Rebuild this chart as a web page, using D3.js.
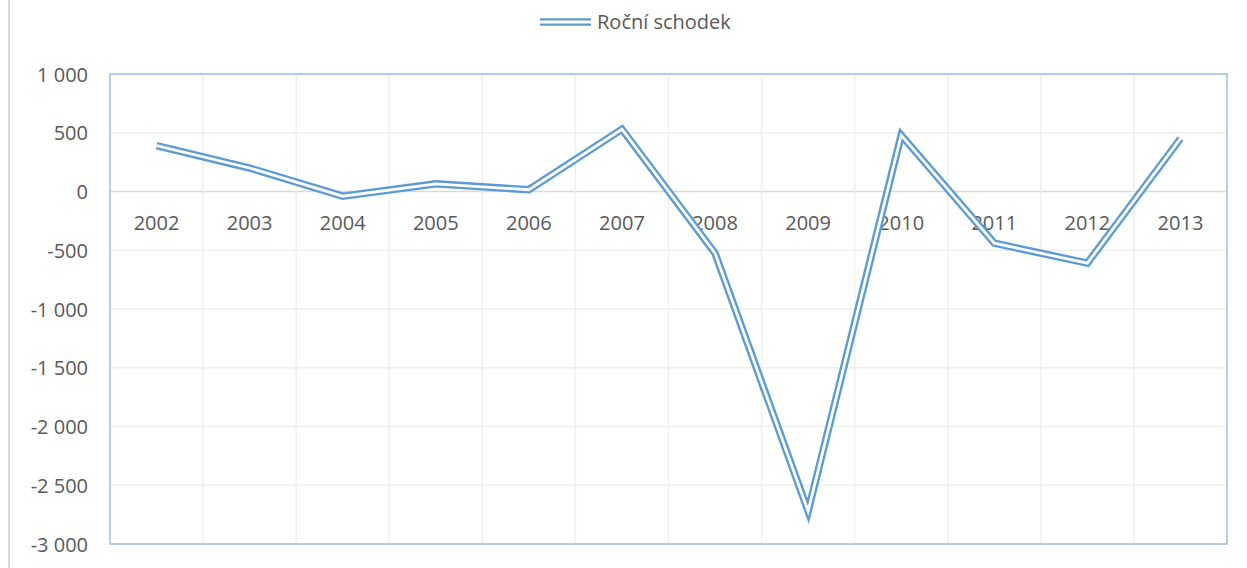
<!DOCTYPE html>
<html>
<head>
<meta charset="utf-8">
<script src="https://cdn.jsdelivr.net/npm/d3@7"></script>
<style>
  body { margin: 0; background: #fff; }
</style>
</head>
<body>
<div id="canvas"></div>
<script>
var years = ['2002', '2003', '2004', '2005', '2006', '2007', '2008', '2009', '2010', '2011', '2012', '2013'];
var deficit = [390, 200, -40, 65, 15, 530, -525, -2720, 480, -440, -610, 450];
var yTicks = [1000, 500, 0, -500, -1000, -1500, -2000, -2500, -3000];
var seriesName = 'Roční schodek';

function drawChart() {
    var width = 1247, height = 568;
    var left = 110, right = 1227, top = 74, bottom = 544;
    var blue = '#5b9bd5';
    var locale = d3.formatLocale({
        decimal: ',', thousands: ' ', grouping: [3], currency: ['', ''], minus: '-'
    });
    var fmt = locale.format(',');

    var svg = d3.select('#canvas').append('svg')
        .attr('width', width)
        .attr('height', height)
        .style('font-family', '"Open Sans", sans-serif');

    // gray frame line on the left
    svg.append('line')
        .attr('x1', 9).attr('x2', 9)
        .attr('y1', 0).attr('y2', height)
        .attr('stroke', '#d9d9d9')
        .attr('stroke-width', 2);

    var x = d3.scaleBand()
        .domain(years)
        .range([left, right]);

    var y = d3.scaleLinear()
        .domain([-3000, 1000])
        .range([bottom, top]);

    // horizontal gridlines
    svg.append('g')
        .selectAll('line')
        .data(yTicks)
        .enter()
        .append('line')
        .attr('x1', left).attr('x2', right)
        .attr('y1', function(d) { return y(d); })
        .attr('y2', function(d) { return y(d); })
        .attr('stroke', function(d) { return d === 0 ? '#d9d9d9' : '#efefef'; })
        .attr('stroke-width', 1.5);

    // vertical gridlines between categories
    svg.append('g')
        .selectAll('line')
        .data(years.slice(1))
        .enter()
        .append('line')
        .attr('x1', function(d) { return x(d); })
        .attr('x2', function(d) { return x(d); })
        .attr('y1', top).attr('y2', bottom)
        .attr('stroke', '#efefef')
        .attr('stroke-width', 1.5);

    // plot area border
    svg.append('rect')
        .attr('x', left).attr('y', top)
        .attr('width', right - left)
        .attr('height', bottom - top)
        .attr('fill', 'none')
        .attr('stroke', '#9dc0e2')
        .attr('stroke-width', 1.5);

    // y axis labels
    var yAxis = svg.append('g')
        .attr('transform', 'translate(' + (left - 22) + ',0)')
        .call(d3.axisLeft(y).tickValues(yTicks).tickSize(0).tickFormat(fmt));
    yAxis.select('.domain').remove();
    yAxis.selectAll('text')
        .attr('x', 0)
        .attr('dy', '0.36em')
        .attr('fill', '#595959')
        .style('font-size', '20px')
        .style('font-family', '"Open Sans", sans-serif');

    // category labels sit just below the zero line
    svg.append('g')
        .selectAll('text')
        .data(years)
        .enter()
        .append('text')
        .attr('x', function(d) { return x(d) + x.bandwidth() / 2; })
        .attr('y', y(0) + 38)
        .attr('text-anchor', 'middle')
        .attr('fill', '#595959')
        .style('font-size', '20px')
        .text(function(d) { return d; });

    var line = d3.line()
        .x(function(d, i) { return x(years[i]) + x.bandwidth() / 2; })
        .y(function(d) { return y(d); });

    // double line: wide blue stroke with a thin white core
    svg.append('path')
        .datum(deficit)
        .attr('d', line)
        .attr('fill', 'none')
        .attr('stroke', blue)
        .attr('stroke-width', 7.5)
        .attr('stroke-linejoin', 'miter')
        .attr('stroke-miterlimit', 10);

    svg.append('path')
        .datum(deficit)
        .attr('d', line)
        .attr('fill', 'none')
        .attr('stroke', '#fff')
        .attr('stroke-width', 2.8)
        .attr('stroke-linejoin', 'miter')
        .attr('stroke-miterlimit', 10);

    // legend
    var legend = svg.append('g');
    legend.append('line')
        .attr('x1', 540).attr('x2', 591)
        .attr('y1', 22).attr('y2', 22)
        .attr('stroke', blue)
        .attr('stroke-width', 7.5);
    legend.append('line')
        .attr('x1', 540).attr('x2', 591)
        .attr('y1', 22).attr('y2', 22)
        .attr('stroke', '#fff')
        .attr('stroke-width', 2.8);
    legend.append('text')
        .attr('x', 597)
        .attr('y', 29)
        .attr('fill', '#595959')
        .style('font-size', '20px')
        .text(seriesName);
}

drawChart();
</script>
</body>
</html>
